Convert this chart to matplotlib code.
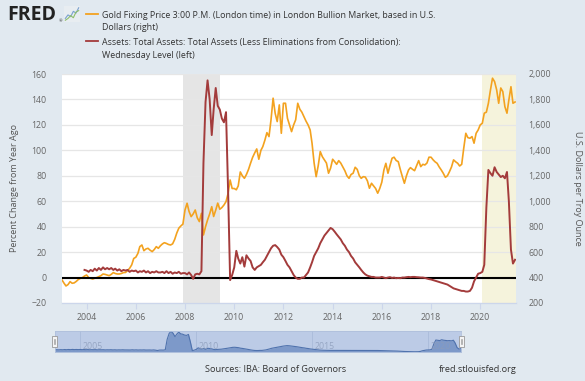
import numpy as np
import pandas as pd
import matplotlib
matplotlib.use("Agg")
import matplotlib.pyplot as plt
import matplotlib.dates as mdates
from matplotlib.patches import Rectangle
from matplotlib.ticker import FuncFormatter

plt.rcParams['font.family'] = ['Open Sans', 'DejaVu Sans']

# gold fixing price, USD per troy ounce, monthly from Jan 2003 (right axis)
gold_start = "2003-01-01"
gold_price = [
    381, 355, 334, 345, 368, 355, 358, 370, 385, 394, 400, 412,        # 2003
    420, 400, 394, 388, 395, 400, 407, 415, 428, 425, 420, 415,        # 2004
    425, 439, 432, 428, 428, 432, 439, 440, 455, 473, 500, 550,        # 2005
    560, 590, 643, 656, 611, 625, 630, 615, 604, 620, 643, 630,        # 2006
    650, 665, 674, 668, 660, 656, 665, 700, 750, 788, 806, 820,        # 2007
    931, 984, 920, 879, 900, 931, 870, 840, 905, 735, 800, 853,        # 2008
    900, 957, 880, 930, 985, 937, 950, 970, 997, 1060, 1167, 1100,     # 2009
    1100, 1090, 1120, 1230, 1200, 1180, 1210, 1250, 1300, 1345, 1380, 1411,  # 2010
    1330, 1400, 1429, 1480, 1539, 1508, 1640, 1810, 1690, 1626, 1757, 1534,  # 2011
    1770, 1770, 1652, 1600, 1547, 1600, 1640, 1770, 1723, 1700, 1665, 1630,  # 2012
    1600, 1560, 1456, 1300, 1193, 1280, 1390, 1350, 1325, 1300, 1220, 1260,  # 2013
    1330, 1310, 1290, 1319, 1300, 1270, 1240, 1200, 1180, 1210, 1220, 1267,  # 2014
    1250, 1200, 1180, 1193, 1190, 1160, 1102, 1141, 1120, 1100, 1063, 1100,  # 2015
    1150, 1246, 1298, 1220, 1280, 1338, 1346, 1320, 1311, 1250, 1193, 1141,  # 2016
    1200, 1246, 1264, 1251, 1240, 1280, 1319, 1272, 1290, 1285, 1300, 1346,  # 2017
    1346, 1325, 1310, 1298, 1270, 1246, 1220, 1188, 1200, 1232, 1270, 1325,  # 2018
    1310, 1298, 1277, 1290, 1416, 1534, 1500, 1495, 1508, 1456, 1534, 1560,  # 2019
    1600, 1613, 1692, 1700, 1770, 1875, 1967, 1940, 1875, 1770, 1890, 1862,  # 2020
    1743, 1692, 1796, 1900, 1770, 1780,                                      # 2021
]

# Fed total assets, percent change from year ago, monthly from Dec 2003 (left axis)
assets_start = "2003-12-01"
assets_pct = [
    6,
    5.5, 4.5, 6, 5, 7, 5.5, 7.5, 6, 8, 6.5, 7.5, 6.5,                  # 2004
    7.5, 6.0, 7.0, 5.5, 6.5, 5.0, 6.0, 5.5, 6.0, 4.5, 5.5, 5.0,        # 2005
    5.5, 4.0, 5.0, 4.5, 5.5, 4.0, 5.0, 3.5, 4.5, 4.0, 5.0, 4.0,        # 2006
    4.0, 4.5, 3.5, 5.0, 3.5, 4.5, 3.0, 4.0, 3.5, 4.5, 3.0, 3.5,        # 2007
    3.5, 2.5, 4.0, 2.0, -1.0, 2.5, 3.0, 2.5, 5.0, 90, 138, 155,        # 2008
    140, 112, 132, 149, 135, 132, 125, 122, 130, 70, -2, 2,            # 2009
    8, 21, 15, 11, 16, 8.6, 17.5, 15, 13, 8, 6, 8,                     # 2010
    9, 10, 12, 14, 17, 20, 23, 25, 25.5, 24, 22, 18,                   # 2011
    16, 13, 10, 8, 5, 2, 0, -1, -1, 0, 0, 2,                           # 2012
    4, 8, 12, 17, 20, 23, 27, 30, 33, 35, 37, 39,                      # 2013
    38, 36, 34, 32, 30, 27, 25, 22, 20, 17, 15, 12,                    # 2014
    10, 8, 6, 4, 2.5, 1.5, 1, 0.5, 0.5, 0, 0, 0,                       # 2015
    0.5, 0, -0.5, 0, 0.3, -0.3, 0, -0.5, -0.3, -0.5, 0, 0,             # 2016
    0.3, 0.5, 0.3, 0.5, 0.5, 0.3, 0.2, 0, 0, -0.3, -0.8, -1.2,         # 2017
    -1.5, -2, -2.5, -3, -3.5, -4, -4.5, -5, -5.5, -6.5, -7.5, -8.5,    # 2018
    -9, -9.5, -10, -10.5, -10.5, -11, -11, -10.5, -8, -3, 0, 3,        # 2019
    3.5, 4.5, 10, 55, 84.6, 82, 80, 86.7, 83, 81, 79, 80,              # 2020
    78, 83, 60, 22, 11, 14,                                            # 2021
]

recession_2008 = ("2007-12-01", "2009-06-01")
recession_2020 = ("2020-02-01", "2021-06-15")
x_range = ("2003-01-01", "2021-06-15")
left_ticks = list(range(-20, 161, 20))
right_ticks = list(range(200, 2001, 200))
year_ticks = list(range(2004, 2021, 2))
nav_years = [2005, 2010, 2015, 2020]

gold_dates = pd.date_range(gold_start, periods=len(gold_price), freq="MS")
assets_dates = pd.date_range(assets_start, periods=len(assets_pct), freq="MS")

BG = "#e1e9f0"
GOLD = "#f3a21f"
RED = "#a33b3b"
TXT = "#666666"

W, H = 585, 381
fig = plt.figure(figsize=(W / 100, H / 100), dpi=100, facecolor=BG)

def fx(px):
    return px / W

def fy(py):
    return 1 - py / H

# main plot: gold axis underneath, assets axis on top
ax2 = fig.add_axes([fx(62), fy(303), fx(516 - 62), (303 - 74) / H])
ax = ax2.twinx()
ax2.yaxis.tick_right()
ax.yaxis.tick_left()
ax.yaxis.set_label_position("left")
ax2.yaxis.set_label_position("right")
ax.set_zorder(ax2.get_zorder() + 1)
ax.patch.set_visible(False)
ax2.set_facecolor("white")

ax2.axvspan(pd.Timestamp(recession_2008[0]), pd.Timestamp(recession_2008[1]),
            color="#e5e5e5", lw=0, zorder=0)
ax2.axvspan(pd.Timestamp(recession_2020[0]), pd.Timestamp(recession_2020[1]),
            color="#f5f3dc", lw=0, zorder=0)

ax2.set_ylim(200, 2000)
ax2.set_yticks(right_ticks)
ax2.yaxis.set_major_formatter(FuncFormatter(lambda v, p: f"{int(v):,}"))
ax2.grid(axis="y", color="#e6e6e6", lw=0.9, zorder=1)
ax2.set_axisbelow(True)
ax2.plot(gold_dates, gold_price, color=GOLD, lw=1.2, zorder=3)

ax.set_ylim(-20, 160)
ax.set_yticks(left_ticks)
ax.axhline(0, color="black", lw=1.5, zorder=2)
ax.plot(assets_dates, assets_pct, color=RED, lw=1.4, zorder=3)

ax.set_xlim(pd.Timestamp(x_range[0]), pd.Timestamp(x_range[1]))
ax2.set_xlim(pd.Timestamp(x_range[0]), pd.Timestamp(x_range[1]))
ax2.set_xticks([pd.Timestamp(f"{y}-01-01") for y in year_ticks])
ax2.xaxis.set_major_formatter(mdates.DateFormatter("%Y"))

for a in (ax, ax2):
    for s in ("top", "left", "right"):
        a.spines[s].set_visible(False)
    a.spines["bottom"].set_color("#ccd6eb")
ax.tick_params(axis="y", length=0, pad=11, labelsize=6.3, labelcolor=TXT)
ax2.tick_params(axis="y", length=0, pad=9, labelsize=6.3, labelcolor=TXT)
ax2.tick_params(axis="x", length=4, width=0.8, color="#ccd6eb", pad=3,
                labelsize=6.3, labelcolor=TXT)
ax.tick_params(axis="x", bottom=False, labelbottom=False)

ax.set_ylabel("Percent Change from Year Ago", fontsize=6.5, color="#555555", labelpad=9)
ax2.set_ylabel("U.S. Dollars per Troy Ounce", fontsize=6.5, color="#555555",
               rotation=270, labelpad=22)

# navigator strip
nav = fig.add_axes([fx(55), fy(352), fx(461 - 55), 21 / H])
nav.set_facecolor("#bccbe6")
nav.fill_between(assets_dates, assets_pct, -13, color="#7d99c9", lw=0)
nav.plot(assets_dates, assets_pct, color="#4f72ad", lw=0.8)
nav.set_xlim(assets_dates[0], assets_dates[-1])
nav.set_ylim(-13, 158)
nav.set_xticks([])
nav.set_yticks([])
for s in nav.spines.values():
    s.set_color("#b0c0dc")
    s.set_linewidth(0.6)
for y in nav_years:
    d = pd.Timestamp(f"{y}-01-01")
    nav.axvline(d, color="#a9bbd9", lw=0.6, zorder=0)
    nav.text(d + pd.Timedelta(days=40), -8, str(y), fontsize=6.3,
             color="#8c9cba", alpha=0.8, va="bottom", ha="left")

for hx in (51.5, 458.5):
    fig.patches.append(Rectangle((fx(hx), fy(347)), fx(5), 11 / H,
                                 transform=fig.transFigure, facecolor="#f4f4f4",
                                 edgecolor="#999999", lw=0.6))
    for gx in (hx + 2, hx + 3.5):
        fig.lines.append(plt.Line2D([fx(gx), fx(gx)], [fy(344), fy(339)],
                                    transform=fig.transFigure, color="#999999", lw=0.5))

# header: logo and legend
fig.text(fx(7), fy(15), "FRED", fontsize=14, fontweight="bold", color="#222222",
         va="center", ha="left")
fig.text(fx(59), fy(21), "®", fontsize=3, color="#222222", va="center")
icon = fig.add_axes([fx(64), fy(22), fx(16), 16 / H])
icon.set_facecolor("#e8edf1")
icon.set_xticks([])
icon.set_yticks([])
for s in icon.spines.values():
    s.set_visible(False)
icon.plot([0, 1, 2, 3, 4, 5], [1, 2, 1.5, 3, 2.5, 4], color="#7aa1cf", lw=0.8)
icon.plot([0, 1, 2, 3, 4, 5], [0.5, 1, 1.8, 1.2, 2.8, 3.2], color="#8fbf6a", lw=0.8)
icon.set_xlim(-0.5, 5.5)
icon.set_ylim(0, 4.5)

legend_items = [
    (GOLD, 14, ["Gold Fixing Price 3:00 P.M. (London time) in London Bullion Market, based in U.S.",
                "Dollars (right)"]),
    (RED, 41, ["Assets: Total Assets: Total Assets (Less Eliminations from Consolidation):",
               "Wednesday Level (left)"]),
]
for color, y0, lines in legend_items:
    fig.lines.append(plt.Line2D([fx(86), fx(98)], [fy(y0), fy(y0)],
                                transform=fig.transFigure, color=color, lw=1.3))
    for i, line in enumerate(lines):
        fig.text(fx(102), fy(y0 + 1 + 13 * i), line, fontsize=6.4, color="#333333",
                 va="center", ha="left")

fig.text(fx(205), fy(370), "Sources: IBA: Board of Governors", fontsize=6.6,
         color="#333333", va="center", ha="left")
fig.text(fx(517), fy(370), "fred.stlouisfed.org", fontsize=6.6,
         color="#333333", va="center", ha="right")

fig.savefig("out.png", dpi=100, facecolor=BG)
